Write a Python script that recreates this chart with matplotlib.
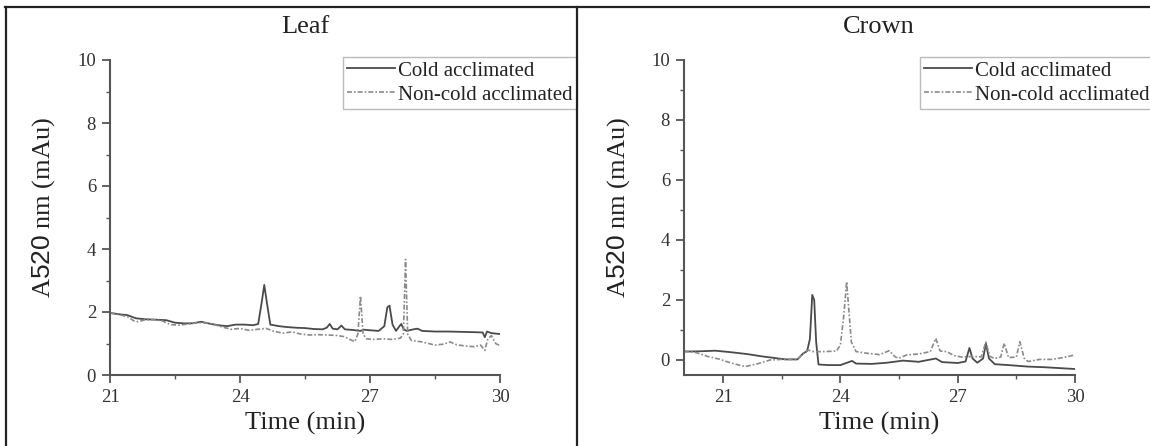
import matplotlib
matplotlib.use("Agg")
import matplotlib.pyplot as plt
from matplotlib.lines import Line2D
from matplotlib.ticker import MultipleLocator

plt.rcParams['font.family'] = ['Liberation Serif', 'DejaVu Serif']
plt.rcParams['mathtext.fontset'] = 'custom'
plt.rcParams['mathtext.sf'] = 'Liberation Sans'
plt.rcParams['mathtext.rm'] = 'Liberation Serif'

# ---------------- data ----------------
leaf_cold_t = [21.0, 21.2, 21.4, 21.6, 21.8, 22.0, 22.3, 22.5, 22.7, 22.9, 23.1, 23.3, 23.5, 23.7,
               23.9, 24.1, 24.3, 24.42, 24.50, 24.56, 24.62, 24.70, 24.9, 25.1, 25.3, 25.5, 25.7,
               25.9, 26.0, 26.07, 26.14, 26.25, 26.34, 26.42, 26.6, 26.78, 26.85, 27.0, 27.2, 27.33,
               27.40, 27.45, 27.52, 27.6, 27.68, 27.72, 27.78, 27.85, 28.0, 28.1, 28.2, 28.5, 28.8,
               29.1, 29.4, 29.6, 29.65, 29.7, 29.8, 30.0]
leaf_cold_v = [1.97, 1.93, 1.90, 1.80, 1.77, 1.76, 1.74, 1.66, 1.64, 1.64, 1.69, 1.63, 1.58, 1.55,
               1.60, 1.60, 1.58, 1.62, 2.30, 2.86, 2.30, 1.60, 1.55, 1.52, 1.50, 1.49, 1.46,
               1.45, 1.50, 1.62, 1.47, 1.45, 1.57, 1.45, 1.43, 1.40, 1.44, 1.42, 1.40, 1.55,
               2.15, 2.20, 1.60, 1.40, 1.55, 1.62, 1.45, 1.40, 1.45, 1.47, 1.40, 1.38, 1.38,
               1.37, 1.36, 1.35, 1.20, 1.38, 1.33, 1.30]

leaf_non_t = [21.0, 21.2, 21.4, 21.55, 21.65, 21.8, 22.0, 22.2, 22.4, 22.6, 22.8, 23.0, 23.2, 23.4,
              23.6, 23.8, 24.0, 24.2, 24.4, 24.6, 24.8, 25.0, 25.2, 25.4, 25.6, 25.8, 26.0, 26.2,
              26.4, 26.55, 26.65, 26.72, 26.78, 26.84, 26.92, 27.1, 27.3, 27.5, 27.7, 27.77, 27.82,
              27.87, 27.95, 28.2, 28.5, 28.7, 28.85, 29.0, 29.2, 29.4, 29.55, 29.65, 29.72, 29.8,
              29.9, 30.0]
leaf_non_v = [1.97, 1.92, 1.85, 1.72, 1.69, 1.75, 1.76, 1.72, 1.60, 1.58, 1.62, 1.66, 1.66, 1.60,
              1.52, 1.45, 1.48, 1.42, 1.45, 1.48, 1.38, 1.33, 1.37, 1.30, 1.27, 1.28, 1.27, 1.26,
              1.22, 1.12, 1.06, 1.30, 2.51, 1.30, 1.15, 1.13, 1.15, 1.13, 1.17, 1.30, 3.67,
              1.30, 1.10, 1.05, 0.95, 0.98, 1.05, 0.96, 0.92, 0.90, 0.95, 0.78, 1.15, 1.25,
              1.00, 0.93]

crown_cold_t = [20.0, 20.4, 20.8, 21.2, 21.6, 22.0, 22.3, 22.6, 22.9, 23.05, 23.15, 23.22, 23.28,
                23.33, 23.38, 23.44, 23.7, 24.0, 24.3, 24.4, 24.8, 25.2, 25.6, 26.0, 26.44, 26.6,
                27.0, 27.2, 27.3, 27.38, 27.5, 27.65, 27.72, 27.8, 27.95, 28.3, 28.8, 29.2, 29.6,
                30.0]
crown_cold_v = [0.28, 0.29, 0.31, 0.26, 0.20, 0.12, 0.07, 0.02, 0.02, 0.22, 0.30, 0.70, 2.17,
                2.00, 0.60, -0.15, -0.17, -0.17, -0.03, -0.12, -0.13, -0.09, -0.02, -0.06, 0.05, -0.07,
                -0.10, -0.05, 0.40, 0.05, -0.09, 0.05, 0.55, 0.05, -0.14, -0.17, -0.22, -0.24, -0.27,
                -0.30]

crown_non_t = [20.0, 20.3, 20.6, 20.9, 21.2, 21.56, 21.9, 22.2, 22.5, 22.9, 23.05, 23.18, 23.3,
               23.6, 23.9, 24.0, 24.08, 24.16, 24.22, 24.28, 24.4, 24.7, 25.0, 25.25, 25.4, 25.5,
               25.7, 26.0, 26.3, 26.44, 26.55, 26.72, 26.9, 27.1, 27.4, 27.6, 27.72, 27.82, 27.95,
               28.1, 28.19, 28.3, 28.5, 28.59, 28.7, 28.8, 29.1, 29.4, 29.7, 30.0]
crown_non_v = [0.30, 0.25, 0.12, 0.03, -0.10, -0.22, -0.12, 0.00, 0.02, 0.02, 0.22, 0.33, 0.28,
               0.28, 0.30, 0.50, 1.40, 2.61, 1.60, 0.60, 0.28, 0.22, 0.18, 0.31, 0.10, 0.06,
               0.17, 0.20, 0.28, 0.72, 0.30, 0.28, 0.15, 0.10, 0.12, 0.10, 0.60, 0.12, 0.05,
               0.10, 0.56, 0.08, 0.10, 0.61, 0.06, -0.05, 0.02, 0.02, 0.08, 0.17]

panel_titles = ["Leaf", "Crown"]
series_labels = ["Cold acclimated", "Non-cold acclimated"]
x_ticks = [21, 24, 27, 30]
y_ticks = [0, 2, 4, 6, 8, 10]
x_label = "Time (min)"
y_label = r"A$\mathsf{520}$ nm (mAu)"

# ---------------- figure ----------------
W, H = 1150, 446
fig = plt.figure(figsize=(W / 100, H / 100), dpi=100)
fig.patch.set_facecolor('white')


def fx(px):
    return px / W


def fy(py):
    return 1 - py / H


panels = [
    dict(rect=[fx(110), fy(375), fx(500) - fx(110), fy(60) - fy(375)], xlim=(21, 30), ylim=(0, 10),
         data=[(leaf_cold_t, leaf_cold_v), (leaf_non_t, leaf_non_v)], cx=305, ylx=44,
         leg=(343, 57)),
    dict(rect=[fx(684), fy(375), fx(1075) - fx(684), fy(60) - fy(375)], xlim=(20, 30), ylim=(-0.5, 10),
         data=[(crown_cold_t, crown_cold_v), (crown_non_t, crown_non_v)], cx=879, ylx=619,
         leg=(920, 57)),
]

spine_col = '#555555'
solid_col = '#4a4a4a'
dash_col = '#8a8a8a'

for i, p in enumerate(panels):
    ax = fig.add_axes(p['rect'])
    (t1, v1), (t2, v2) = p['data']
    ax.plot(t1, v1, color=solid_col, lw=1.3, label=series_labels[0])
    ax.plot(t2, v2, color=dash_col, lw=1.2, dashes=(3, 1.2, 1, 1.2), label=series_labels[1])
    ax.set_xlim(*p['xlim'])
    ax.set_ylim(*p['ylim'])
    ax.set_xticks(x_ticks)
    ax.set_yticks(y_ticks)
    ax.xaxis.set_minor_locator(MultipleLocator(1.5))
    ax.yaxis.set_minor_locator(MultipleLocator(1))
    for s in ['top', 'right']:
        ax.spines[s].set_visible(False)
    for s in ['left', 'bottom']:
        ax.spines[s].set_color(spine_col)
        ax.spines[s].set_linewidth(1.5)
    ax.tick_params(which='major', direction='out', length=6, width=1.3, color=spine_col,
                   labelsize=13.5, labelcolor='#333333', pad=4)
    ax.tick_params(which='minor', direction='out', length=3, width=1.0, color=spine_col)
    ax.set_facecolor('none')
    fig.text(fx(p['cx']), fy(27), panel_titles[i], ha='center', va='center', fontsize=19, color='#222222')
    fig.text(fx(p['cx']), fy(423), x_label, ha='center', va='center', fontsize=19, color='#222222')
    fig.text(fx(p['ylx']), fy(207), y_label, ha='center', va='center', rotation=90, fontsize=19,
             color='#222222')
    lx, ly = p['leg']
    leg = ax.legend(loc='upper left', bbox_to_anchor=(fx(lx), fy(ly)), bbox_transform=fig.transFigure,
                    borderaxespad=0, frameon=True, fancybox=False, fontsize=15, handlelength=2.3,
                    handletextpad=0.15, borderpad=0.2, labelspacing=0.2)
    leg.get_frame().set_edgecolor('#aaaaaa')
    leg.get_frame().set_linewidth(1.0)
    for txt in leg.get_texts():
        txt.set_color('#222222')

# outer border and divider
border_kw = dict(color='#222222', lw=1.6, transform=fig.transFigure)
fig.add_artist(Line2D([fx(5), 1], [fy(7), fy(7)], **border_kw))
fig.add_artist(Line2D([fx(5.5), fx(5.5)], [fy(7), 0], **border_kw))
fig.add_artist(Line2D([fx(577), fx(577)], [fy(7), 0], **border_kw))

fig.savefig('out.png', dpi=100, facecolor='white')
